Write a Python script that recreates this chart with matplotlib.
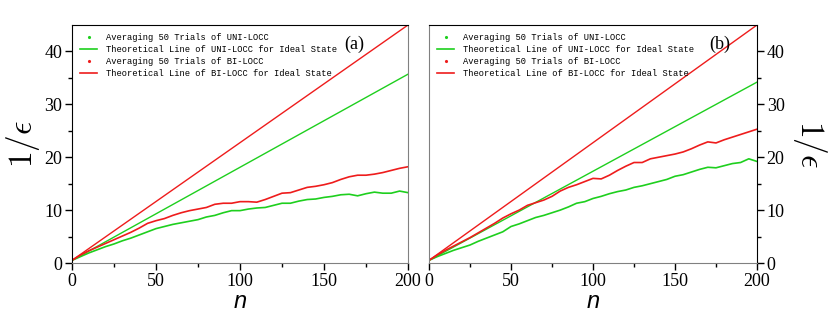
"""Recreate the two-panel 1/eps vs n comparison (UNI-LOCC vs BI-LOCC)."""
import matplotlib
matplotlib.use("Agg")
import matplotlib.pyplot as plt
from matplotlib.lines import Line2D

# --- data ---
n_avg = list(range(0, 201, 5))

a_uni_avg = [0.5, 1.2, 1.9, 2.5, 3.1, 3.6, 4.2, 4.7, 5.3, 5.9, 6.5, 6.9, 7.3, 7.6,
             7.9, 8.2, 8.7, 9.0, 9.5, 9.9, 9.9, 10.2, 10.4, 10.5, 10.9, 11.3, 11.3,
             11.7, 12.0, 12.1, 12.4, 12.6, 12.9, 13.0, 12.7, 13.1, 13.4, 13.2, 13.2,
             13.6, 13.3]
a_bi_avg = [0.5, 1.5, 2.3, 3.0, 3.7, 4.4, 5.1, 5.8, 6.6, 7.5, 8.0, 8.4, 9.0, 9.5,
            9.9, 10.2, 10.5, 11.1, 11.3, 11.3, 11.6, 11.6, 11.5, 12.0, 12.6, 13.2,
            13.3, 13.8, 14.3, 14.5, 14.8, 15.2, 15.8, 16.3, 16.6, 16.6, 16.8, 17.1,
            17.5, 17.9, 18.2]
b_uni_avg = [0.5, 1.2, 1.8, 2.4, 2.9, 3.4, 4.1, 4.7, 5.3, 5.9, 6.9, 7.4, 8.0, 8.6,
             9.0, 9.5, 10.0, 10.6, 11.3, 11.6, 12.2, 12.6, 13.1, 13.5, 13.8, 14.3,
             14.6, 15.0, 15.4, 15.8, 16.4, 16.7, 17.2, 17.7, 18.1, 18.0, 18.4, 18.8,
             19.0, 19.7, 19.2]
b_bi_avg = [0.5, 1.5, 2.4, 3.2, 4.0, 4.8, 5.7, 6.6, 7.5, 8.5, 9.3, 10.0, 10.9, 11.4,
            11.9, 12.6, 13.6, 14.3, 14.8, 15.4, 16.0, 15.9, 16.6, 17.5, 18.3, 19.0,
            19.0, 19.7, 20.0, 20.3, 20.6, 21.0, 21.6, 22.3, 22.9, 22.7, 23.3, 23.8,
            24.3, 24.8, 25.3]

# theoretical lines are straight: endpoints only
n_theory = [0, 200]
a_uni_theory = [0.5, 35.7]
a_bi_theory = [0.5, 45.0]
b_uni_theory = [0.5, 34.2]
b_bi_theory = [0.5, 45.0]

labels = ["Averaging 50 Trials of UNI-LOCC",
          "Theoretical Line of UNI-LOCC for Ideal State",
          "Averaging 50 Trials of BI-LOCC",
          "Theoretical Line of BI-LOCC for Ideal State"]
GREEN, RED = "#1ecf1e", "#ee1c1c"

plt.rcParams["mathtext.fontset"] = "cm"
plt.rcParams["font.family"] = ["Liberation Serif", "DejaVu Serif"]
fig = plt.figure(figsize=(8.3, 3.32), dpi=100)
ax_a = fig.add_axes([72 / 830, 69 / 332, 336 / 830, 238 / 332])
ax_b = fig.add_axes([429 / 830, 69 / 332, 328 / 830, 238 / 332])

panels = [(ax_a, a_uni_avg, a_uni_theory, a_bi_avg, a_bi_theory, "(a)", 0.84),
          (ax_b, b_uni_avg, b_uni_theory, b_bi_avg, b_bi_theory, "(b)", 0.885)]

handles = [Line2D([], [], ls="none", marker=".", ms=2.5, color=GREEN),
           Line2D([], [], color=GREEN, lw=1.2),
           Line2D([], [], ls="none", marker=".", ms=2.5, color=RED),
           Line2D([], [], color=RED, lw=1.2)]

for ax, ua, ut, ba, bt, tag, tx in panels:
    ax.plot(n_avg, ua, "-", color=GREEN, lw=1.2)
    ax.plot(n_theory, ut, "-", color=GREEN, lw=1.0)
    ax.plot(n_avg, ba, "-", color=RED, lw=1.2)
    ax.plot(n_theory, bt, "-", color=RED, lw=1.0)
    ax.set_xlim(0, 200); ax.set_ylim(0, 45)
    ax.set_xticks([0, 50, 100, 150, 200])
    ax.set_xticks([25, 75, 125, 175], minor=True)
    ax.set_yticks([0, 10, 20, 30, 40])
    ax.set_yticks([5, 15, 25, 35], minor=True)
    ax.tick_params(which="major", direction="out", length=5, width=1.0,
                   labelsize=13, pad=2)
    ax.tick_params(which="minor", direction="out", length=3, width=1.0)
    ax.spines["bottom"].set_color("#808080")
    ax.set_xlabel("n", fontsize=17, style="italic", family="Liberation Sans", labelpad=0)
    ax.legend(handles, labels, loc="upper left", frameon=False, handlelength=2.0,
              labelspacing=0.35, borderaxespad=0.5, handletextpad=1.0,
              prop={"family": "Liberation Mono", "size": 6.3})
    ax.text(tx, 0.92, tag, transform=ax.transAxes, ha="center", va="center",
            fontsize=13)

ax_a.spines["right"].set_color("#808080")
ax_a.set_ylabel(r"$1/\epsilon$", fontsize=24, labelpad=2)

ax_b.spines["left"].set_color("#808080")
ax_b.yaxis.tick_right()
ax_b.yaxis.set_label_position("right")
ax_b.tick_params(axis="y", which="both", left=False, right=True)
ax_b.set_ylabel(r"$1/\epsilon$", fontsize=24, rotation=-90, labelpad=32)

fig.savefig("out.png", dpi=100)
